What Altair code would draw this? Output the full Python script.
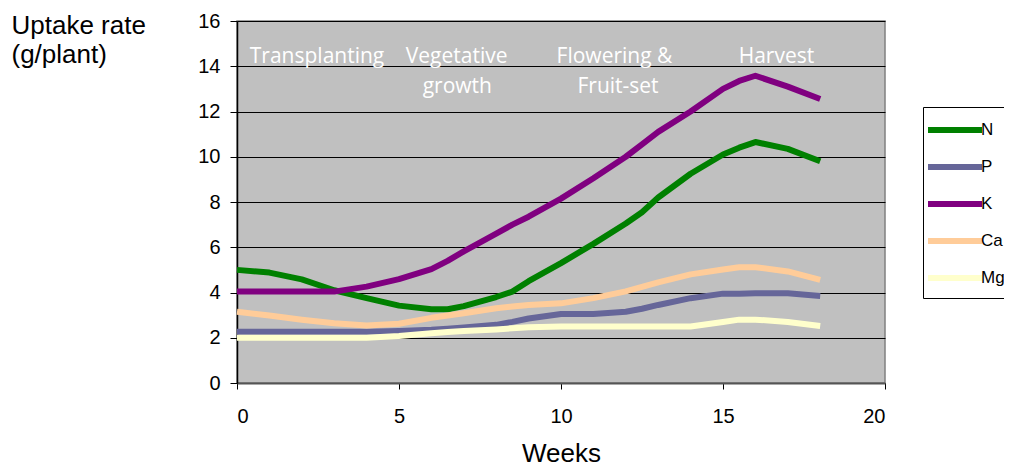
import altair as alt
import pandas as pd

weeks = [0, 1, 2, 3, 4, 5, 6, 6.5, 7, 8, 8.5, 9, 10, 11, 12, 12.5, 13, 14, 15, 15.5, 16, 17, 18]
n_vals = [5.0, 4.88, 4.58, 4.1, 3.75, 3.42, 3.26, 3.26, 3.4, 3.8, 4.04, 4.5, 5.3, 6.15, 7.05, 7.55, 8.2, 9.25, 10.1, 10.4, 10.65, 10.35, 9.8]
p_vals = [2.27, 2.27, 2.27, 2.27, 2.27, 2.3, 2.35, 2.4, 2.45, 2.57, 2.7, 2.85, 3.05, 3.05, 3.15, 3.28, 3.45, 3.75, 3.95, 3.95, 3.97, 3.97, 3.85]
k_vals = [4.04, 4.04, 4.04, 4.04, 4.26, 4.59, 5.03, 5.4, 5.82, 6.6, 7.0, 7.35, 8.15, 9.05, 10.0, 10.55, 11.1, 12.0, 13.0, 13.35, 13.58, 13.1, 12.55]
ca_vals = [3.15, 2.98, 2.8, 2.64, 2.54, 2.62, 2.88, 2.98, 3.08, 3.3, 3.38, 3.45, 3.52, 3.75, 4.05, 4.25, 4.45, 4.8, 5.02, 5.12, 5.12, 4.93, 4.56]
mg_vals = [2.0, 2.0, 2.0, 2.0, 2.0, 2.08, 2.2, 2.25, 2.3, 2.37, 2.42, 2.46, 2.5, 2.5, 2.5, 2.5, 2.5, 2.5, 2.7, 2.8, 2.8, 2.7, 2.52]

nutrients = ["N", "P", "K", "Ca", "Mg"]
colors = ["#008000", "#666699", "#800080", "#FFCC99", "#FFFFCC"]

stage_text = ["Transplanting", "Vegetative", "growth", "Flowering &", "Fruit-set", "Harvest"]
stage_x = [2.47, 6.78, 6.8, 11.65, 11.76, 16.65]
stage_y = [14.14, 14.14, 12.82, 14.14, 12.82, 14.14]

y_ticks = [0, 2, 4, 6, 8, 10, 12, 14, 16]
x_ticks = [0, 5, 10, 15, 20]

series = [n_vals, p_vals, k_vals, ca_vals, mg_vals]
rows = []
for name, vals in zip(nutrients, series):
    for w, v in zip(weeks, vals):
        rows.append({"week": w, "rate": v, "nutrient": name})
df = pd.DataFrame(rows)
stages = pd.DataFrame({"label": stage_text, "x": stage_x, "y": stage_y})

FONT = "Liberation Sans"

x_scale = alt.Scale(domain=[0, 20], nice=False)
y_scale = alt.Scale(domain=[0, 16], nice=False)

lines = alt.Chart(df).mark_line(strokeWidth=6, strokeJoin="round").encode(
    x=alt.X("week:Q", scale=x_scale,
            axis=alt.Axis(values=x_ticks, title="Weeks", grid=False, tickSize=6,
                          labelPadding=17, domainColor="#555555",
                          domainWidth=2, tickColor="#000000", labelFont=FONT,
                          labelFontSize=20, labelColor="#000000", titleFont=FONT,
                          titleFontSize=26, titleFontWeight="normal", titleColor="#000000",
                          titleBaseline="alphabetic", titleY=78)),
    y=alt.Y("rate:Q", scale=y_scale,
            axis=alt.Axis(values=y_ticks, title=["Uptake rate", "(g/plant)"], grid=True,
                          gridColor="#000000", gridWidth=1, gridOpacity=1, tickSize=7,
                          labelPadding=10, domainColor="#000000", domainWidth=1.5,
                          tickColor="#000000", labelFont=FONT, labelFontSize=20,
                          labelColor="#000000", titleFont=FONT, titleFontSize=26,
                          titleFontWeight="normal", titleColor="#000000", titleAngle=0,
                          titleAlign="left", titleBaseline="alphabetic", titleX=-226,
                          titleY=12, titleLineHeight=29)),
    color=alt.Color("nutrient:N", scale=alt.Scale(domain=nutrients, range=colors),
                    sort=nutrients,
                    legend=alt.Legend(title=None, orient="none", legendX=686, legendY=86,
                                      symbolType="M-1,0H3.5", symbolSize=576,
                                      symbolStrokeWidth=6, symbolOffset=-6,
                                      labelOffset=26, rowPadding=10, padding=8,
                                      strokeColor="#000000", fillColor="#FFFFFF",
                                      labelFont=FONT, labelFontSize=17,
                                      labelColor="#000000")),
)

labels = alt.Chart(stages).mark_text(color="#FFFFFF", font="Open Sans", fontSize=21,
                                     baseline="alphabetic", align="center").encode(
    x=alt.X("x:Q", scale=x_scale),
    y=alt.Y("y:Q", scale=y_scale),
    text="label:N",
)

chart = alt.layer(labels, lines).properties(
    width=648, height=362,
    autosize=alt.AutoSizeParams(type="none"),
    padding={"left": 229, "top": 13, "right": 119, "bottom": 84},
).configure_view(
    fill="#C0C0C0", stroke="#808080", strokeWidth=1.5,
)

chart.save("out.html", embed_options={"renderer": "svg", "actions": False})
